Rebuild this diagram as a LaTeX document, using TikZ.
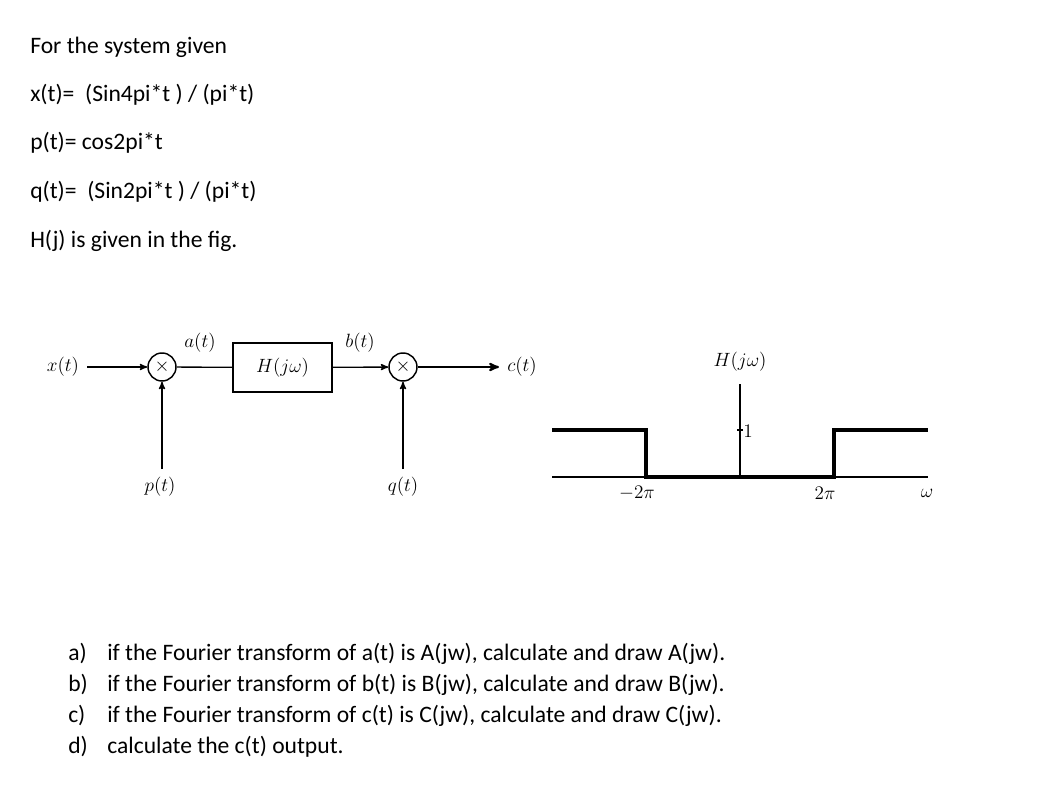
\documentclass[tikz,border=0pt]{standalone}
\usepackage{amsmath}
\usepackage{fontspec}
\setmainfont{Carlito}
\usetikzlibrary{positioning, arrows.meta, arrows}

\tikzset{
  txt/.style={anchor=base west, inner sep=0pt, font=\fontsize{17.7}{21}\selectfont},
  sig/.style={inner sep=6pt, font=\fontsize{14.4}{17}\selectfont},
  mult/.style={circle, draw, line width=1.1pt, minimum size=21pt, inner sep=0pt,
               font=\fontsize{14.4}{17}\selectfont},
  blk/.style={draw, line width=1.5pt, minimum width=74pt, minimum height=37pt,
              font=\fontsize{14.4}{17}\selectfont},
  wire/.style={line width=1pt},
  resp/.style={line width=3pt},
}

\begin{document}
\begin{tikzpicture}[x=0.75pt,y=-0.75pt,>=stealth']
    \useasboundingbox (0,0) rectangle (1042,788);

    % problem statement
    \node[txt] (l1) at (30,54)  {For the system given};
    \node[txt] (l2) at (30,102) {x(t)=\ \ (Sin4pi*t )\ /\ (pi*t)};
    \node[txt] (l3) at (30,150) {p(t)= cos2pi*t};
    \node[txt] (l4) at (30,199) {q(t)=\ \ (Sin2pi*t )\ /\ (pi*t)};
    \node[txt] (l5) at (30,247) {H(j) is given in the fig.};

    % block diagram
    \node[sig] (x) at (63,367) {$x(t)$};
    \node[mult] (m1) at (162,367) {$\times$};
    \node[blk] (h) at (282.5,367.5) {$H(j\omega)$};
    \node[mult] (m2) at (403,367) {$\times$};
    \node[sig] (c) at (522,367) {$c(t)$};
    \node[sig] (a) at (200,343) {$a(t)$};
    \node[sig] (b) at (360,343) {$b(t)$};
    \node[sig] (p) at (160,487) {$p(t)$};
    \node[sig] (q) at (403,487) {$q(t)$};

    \draw[wire,->] (x) -- (m1);
    \draw[wire] (m1) -- (h);
    \draw[wire,->] (h) -- (m2);
    \draw[line width=1.5pt,->] (m2) -- (c);
    \draw[wire,->] (m1 |- p.north) -- (m1);
    \draw[wire,->] (m2 |- q.north) -- (m2);

    % frequency response H(jw)
    \coordinate (wl) at (552,477);
    \coordinate (wr) at (928,477);
    \coordinate (top) at (740,384);
    \coordinate (org) at (740,477);
    \coordinate (one) at (740,430);
    \coordinate (cl) at (646,477);
    \coordinate (cr) at (834,477);
    \draw[wire] (wl) -- (wr);
    \draw[wire] (org) -- (top);
    \draw[wire] ([xshift=-2]one) -- ([xshift=2]one);
    \draw[resp] (wl |- one) -| (cl) -- (cr) |- (wr |- one);

    \node[sig, inner sep=0pt] (hl) at (740,362) {$H(j\omega)$};
    \node[sig, inner sep=0pt, anchor=west] (l1v) at (743,431) {$1$};
    \node[sig, inner sep=0pt] (lm) at (637,493) {$-2\pi$};
    \node[sig, inner sep=0pt] (lp) at (825,493) {$2\pi$};
    \node[sig, inner sep=0pt] (lw) at (927,493) {$\omega$};

    % questions
    \node[txt] (qa) at (68,660) {a)};
    \node[txt] (ta) at (107,660) {if the Fourier transform of a(t) is A(jw), calculate and draw A(jw).};
    \node[txt] (qb) at (68,691) {b)};
    \node[txt] (tb) at (107,691) {if the Fourier transform of b(t) is B(jw), calculate and draw B(jw).};
    \node[txt] (qc) at (68,722) {c)};
    \node[txt] (tc) at (107,722) {if the Fourier transform of c(t) is C(jw), calculate and draw C(jw).};
    \node[txt] (qd) at (68,753) {d)};
    \node[txt] (td) at (107,753) {calculate the c(t) output.};
\end{tikzpicture}
\end{document}
